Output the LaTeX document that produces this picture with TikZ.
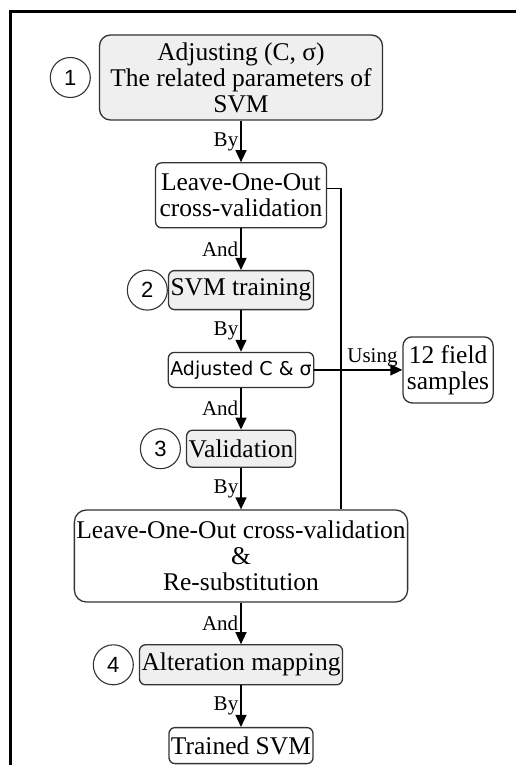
\documentclass[tikz,border=0pt]{standalone}
\usepackage{fontspec}
\setmainfont{Liberation Serif}
\newfontfamily\versa{DejaVu Sans}
\newfontfamily\numfont{Liberation Sans}
\usepackage{tikz}
\usetikzlibrary{positioning,arrows.meta}
\definecolor{boxgray}{HTML}{EFEFEF}
\definecolor{edgegray}{HTML}{333333}

\begin{document}
\begin{tikzpicture}[node distance=41.5pt,
    every node/.style={font=\fontsize{25.5}{26}\selectfont},
    box/.style={draw=edgegray, line width=1.3pt, rounded corners=6pt, fill=white,
      align=center, inner xsep=2pt, inner ysep=4pt, minimum height=37pt},
    graybox/.style={box, fill=boxgray},
    num/.style={draw=edgegray, line width=1.1pt, circle, minimum size=40pt, inner sep=0pt,
      font=\numfont\fontsize{22}{24}\selectfont},
    lbl/.style={font=\fontsize{21}{22}\selectfont, inner sep=2pt},
    flow/.style={-{Triangle[length=12pt,width=11pt]}, line width=1.5pt}]
    \useasboundingbox (0,0) rectangle (516pt,-765pt);
    \draw[line width=3pt] (10pt,-765pt) -- (10pt,-12pt) -- (516pt,-12pt);
    \node (adj) [graybox, rounded corners=11pt, minimum width=283pt, minimum height=85pt]
      at (241pt,-77.5pt) {Adjusting (C, σ)\\The related parameters of\\SVM};
    \node (loo) [box, below=of adj, minimum height=65pt, inner xsep=4pt] {Leave-One-Out\\cross-validation};
    \node (train) [graybox, below=of loo, minimum height=39pt] {SVM training};
    \node (tuned) [box, below=of train, minimum height=35pt,
      font=\versa\fontsize{19}{20}\selectfont] {Adjusted C \& σ};
    \node (valid) [graybox, below=of tuned] {Validation};
    \node (check) [box, below=of valid, minimum height=92pt, rounded corners=12pt]
      {Leave-One-Out cross-validation\\\&\\Re-substitution};
    \node (alter) [graybox, below=of check, minimum height=40pt] {Alteration mapping};
    \node (svm) [box, below=of alter, minimum height=36pt] {Trained SVM};
    \node (field) [box, right=88pt of tuned, minimum height=66pt, rounded corners=9pt,
      inner xsep=4pt] {12 field\\samples};
    % step numbers
    \node (n1) [num, left=8pt of adj] {1};
    \node (n2) [num, left=0pt of train] {2};
    \node (n3) [num, left=5pt of valid] {3};
    \node (n4) [num, left=5pt of alter] {4};
    \draw[flow] (adj) -- node[lbl, left] {By} (loo);
    \draw[flow] (loo) -- node[lbl, left] {And} (train);
    \draw[flow] (train) -- node[lbl, left] {By} (tuned);
    \draw[flow] (tuned) -- node[lbl, left] {And} (valid);
    \draw[flow] (valid) -- node[lbl, left] {By} (check);
    \draw[flow] (check) -- node[lbl, left] {And} (alter);
    \draw[flow] (alter) -- node[lbl, left] {By} (svm);
    \draw[flow] (tuned) -- node[lbl, above, pos=0.66] {Using} (field);
    \coordinate (tie) at ([xshift=14pt, yshift=7pt]loo.east);
    \draw[line width=1.2pt] ([yshift=7pt]loo.east) -- (tie) -- (tie |- check.north);
\end{tikzpicture}
\end{document}
